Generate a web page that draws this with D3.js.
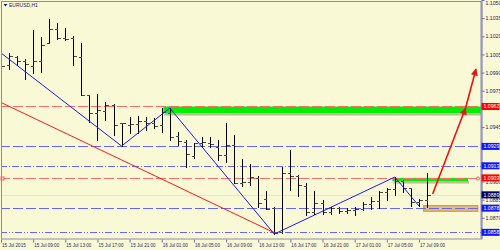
<!DOCTYPE html>
<html>
<head>
<meta charset="utf-8">
<script src="https://cdn.jsdelivr.net/npm/d3@7"></script>
<style>
    html, body { margin: 0; padding: 0; background: #f9f9d6; }
    svg { display: block; font-family: "Liberation Sans", Arial, sans-serif; }
</style>
</head>
<body>
<svg id="chart" width="500" height="250"></svg>
<script>
    // EURUSD H1, one entry per hourly bar (15 Jul 05:00 .. 17 Jul 10:00)
    var opens = [1.09988, 1.09963, 1.10029, 1.09996, 1.09955, 1.09996, 1.10145, 1.10260, 1.10186, 1.10186,
        1.10029, 1.09715, 1.09566, 1.09583, 1.09632, 1.09484, 1.09467, 1.09475, 1.09500, 1.09484,
        1.09467, 1.09566, 1.09376, 1.09326, 1.09211, 1.09318, 1.09318, 1.09285, 1.09219, 1.09302,
        1.08988, 1.08996, 1.09029, 1.08855, 1.08781, 1.08583, 1.09070, 1.09045, 1.08963, 1.08748,
        1.08822, 1.08748, 1.08781, 1.08756, 1.08764, 1.08773, 1.08814, 1.08839, 1.08913, 1.08938,
        1.09004, 1.08946, 1.08831, 1.08847];
    var highs = [1.10070, 1.10062, 1.10037, 1.10012, 1.10252, 1.10194, 1.10343, 1.10310, 1.10269, 1.10202,
        1.10145, 1.09715, 1.09723, 1.09657, 1.09640, 1.09484, 1.09533, 1.09541, 1.09533, 1.09525,
        1.09607, 1.09607, 1.09409, 1.09343, 1.09318, 1.09368, 1.09368, 1.09343, 1.09484, 1.09384,
        1.09186, 1.09145, 1.09045, 1.08921, 1.08789, 1.09120, 1.09260, 1.09054, 1.08988, 1.08921,
        1.08847, 1.08789, 1.08789, 1.08781, 1.08789, 1.08831, 1.08872, 1.08921, 1.08946, 1.09037,
        1.09012, 1.08946, 1.08855, 1.09070];
    var lows = [1.09921, 1.09930, 1.09963, 1.09847, 1.09897, 1.09905, 1.10145, 1.10178, 1.10169, 1.09963,
        1.09715, 1.09492, 1.09343, 1.09508, 1.09384, 1.09293, 1.09401, 1.09401, 1.09426, 1.09442,
        1.09409, 1.09343, 1.09302, 1.09120, 1.09194, 1.09285, 1.09285, 1.09178, 1.09161, 1.08988,
        1.08963, 1.08971, 1.08789, 1.08773, 1.08566, 1.08574, 1.08930, 1.08880, 1.08723, 1.08731,
        1.08731, 1.08731, 1.08740, 1.08740, 1.08723, 1.08764, 1.08773, 1.08781, 1.08847, 1.08888,
        1.08913, 1.08798, 1.08798, 1.08789];
    var closes = [1.09955, 1.10037, 1.09996, 1.09971, 1.09996, 1.10128, 1.10260, 1.10186, 1.10178, 1.10037,
        1.09715, 1.09566, 1.09591, 1.09632, 1.09467, 1.09484, 1.09475, 1.09500, 1.09484, 1.09459,
        1.09574, 1.09368, 1.09335, 1.09227, 1.09318, 1.09326, 1.09310, 1.09219, 1.09302, 1.08988,
        1.08996, 1.09037, 1.08822, 1.08773, 1.08574, 1.09070, 1.09045, 1.08971, 1.08748, 1.08822,
        1.08748, 1.08781, 1.08756, 1.08764, 1.08773, 1.08814, 1.08839, 1.08913, 1.08938, 1.09004,
        1.08946, 1.08831, 1.08847, 1.08888];

    var timeTickIdx = [0, 4, 8, 12, 16, 20, 24, 28, 32, 36, 40, 44, 48, 52];
    var timeLabels = ["15 Jul 2015", "15 Jul 09:00", "15 Jul 13:00", "15 Jul 17:00", "15 Jul 21:00",
        "16 Jul 01:00", "16 Jul 05:00", "16 Jul 09:00", "16 Jul 13:00", "16 Jul 17:00",
        "16 Jul 21:00", "17 Jul 01:00", "17 Jul 05:00", "17 Jul 09:00"];
    // grid prices that are not hidden behind a level label
    var priceTicks = [1.1050, 1.1035, 1.1020, 1.1005, 1.0990, 1.0975, 1.0945,
        1.0900, 1.0885, 1.0870];

    // horizontal levels
    var levelPrices = [1.0962, 1.0929, 1.0913, 1.0903, 1.0878, 1.0858];
    var bidPrice = 1.0889;

    // zigzag + trend line (bar index, price)
    var zigzagIdx = [-0.15, 15, 21, 34, 49, 52];
    var zigzagPrice = [1.10070, 1.09293, 1.09607, 1.08566, 1.09037, 1.08798];
    var trendIdx = [-0.12, 34.1];
    var trendPrice = [1.09657, 1.08574];

    // arrows
    var arrowFromIdx = [53.7, 57.8];
    var arrowFromPrice = [1.08897, 1.09607];
    var arrowToIdx = [57.8, 59.1];
    var arrowToPrice = [1.09607, 1.09930];

    // zones: green, green, orange
    var zoneStartIdx = [20.2, 48.7, 52.6];
    var zoneEndIdx = [61, 58.1, 59.3];
    var zoneTop = [1.09620, 1.09030, 1.08800];
    var zoneBottom = [1.09566, 1.09004, 1.08755];

    var svg = d3.select("#chart");
    var W = 500, H = 250;
    var plotRight = 481, plotBottom = 239;

    svg.append("rect").attr("width", W).attr("height", H).attr("fill", "#f9f9d6");

    var x = d3.scaleLinear().domain([0, 53]).range([1, 427]);
    var y = d3.scaleLinear().domain([1.08525, 1.10500]).range([plotBottom, 0]);

    svg.append("clipPath").attr("id", "plotClip")
        .append("rect").attr("x", 1.5).attr("y", 1.5)
        .attr("width", plotRight - 1.5).attr("height", plotBottom - 1.5);

    var plot = svg.append("g").attr("clip-path", "url(#plotClip)");

    // Zones
    var zoneFill = ["#00f000", "#00f000", "#cdc59f"];
    var zoneStroke = ["none", "none", "#f39a26"];
    zoneStartIdx.forEach(function(s, i) {
        var x0 = x(s), x1 = x(zoneEndIdx[i]);
        var y0 = y(zoneTop[i]), y1 = y(zoneBottom[i]);
        if (i < 2) {
            plot.append("rect")
                .attr("x", x0 + 1).attr("y", y1)
                .attr("width", x1 - x0).attr("height", 2.5)
                .attr("fill", "#8c8a6c").attr("opacity", 0.55);
        }
        plot.append("rect")
            .attr("x", x0).attr("y", y0)
            .attr("width", x1 - x0).attr("height", y1 - y0)
            .attr("fill", zoneFill[i])
            .attr("stroke", zoneStroke[i])
            .attr("stroke-width", 1.5);
    });

    // Levels
    var levelColor = ["#ff6a6a", "#6464ff", "#6464ff", "#ff6a6a", "#6464ff", "#6464ff"];
    var levelDash = ["10,3", "10,3", "7,2,1,2", "10,3", "10,3", "7,2,1,2,1,2"];
    plot.append("line")
        .attr("x1", 0).attr("x2", plotRight)
        .attr("y1", Math.round(y(bidPrice)) + 0.5).attr("y2", Math.round(y(bidPrice)) + 0.5)
        .attr("stroke", "#e4e4dc").attr("stroke-width", 1);
    levelPrices.forEach(function(p, i) {
        var ly = Math.round(y(p)) + 0.5;
        plot.append("line")
            .attr("x1", 0).attr("x2", plotRight)
            .attr("y1", ly).attr("y2", ly)
            .attr("stroke", levelColor[i])
            .attr("stroke-width", 1)
            .attr("stroke-dasharray", levelDash[i]);
    });

    // Bars
    var gBars = plot.append("g").attr("shape-rendering", "crispEdges");
    opens.forEach(function(o, i) {
        var cx = Math.round(x(i)) + 0.5;
        gBars.append("line")
            .attr("x1", cx).attr("x2", cx)
            .attr("y1", Math.round(y(highs[i]))).attr("y2", Math.round(y(lows[i])) + 1)
            .attr("stroke", "#000");
        gBars.append("line")
            .attr("x1", cx - 3).attr("x2", cx)
            .attr("y1", Math.round(y(o)) + 0.5).attr("y2", Math.round(y(o)) + 0.5)
            .attr("stroke", "#4a4a3c");
        gBars.append("line")
            .attr("x1", cx).attr("x2", cx + 3)
            .attr("y1", Math.round(y(closes[i])) + 0.5).attr("y2", Math.round(y(closes[i])) + 0.5)
            .attr("stroke", "#4a4a3c");
    });

    // Trend line and zigzag
    var line = d3.line().x(function(d) { return x(d[0]); }).y(function(d) { return y(d[1]); });
    plot.append("path")
        .attr("d", line(d3.zip(trendIdx, trendPrice)))
        .attr("fill", "none").attr("stroke", "#ff1a1a").attr("stroke-width", 1);
    plot.append("path")
        .attr("d", line(d3.zip(zigzagIdx, zigzagPrice)))
        .attr("fill", "none").attr("stroke", "#1a1aff").attr("stroke-width", 1);

    // Arrows
    svg.append("defs").append("marker")
        .attr("id", "arrowHead")
        .attr("viewBox", "0 0 10 10")
        .attr("refX", 9).attr("refY", 5)
        .attr("markerWidth", 5).attr("markerHeight", 4.5)
        .attr("markerUnits", "strokeWidth")
        .attr("orient", "auto")
        .append("path").attr("d", "M0,0 L10,5 L0,10 Z").attr("fill", "#ee1111");
    arrowFromIdx.forEach(function(a, i) {
        plot.append("line")
            .attr("x1", x(a)).attr("y1", y(arrowFromPrice[i]))
            .attr("x2", x(arrowToIdx[i])).attr("y2", y(arrowToPrice[i]))
            .attr("stroke", "#ee1111").attr("stroke-width", 1.6)
            .attr("marker-end", "url(#arrowHead)");
    });

    // Selected-line markers on 1.0903
    var selY = Math.round(y(levelPrices[3])) + 0.5;
    svg.append("rect").attr("x", 1).attr("y", selY - 1.5).attr("width", 3).attr("height", 3)
        .attr("fill", "#fff").attr("stroke", "#ff3030").attr("stroke-width", 0.8);
    svg.append("circle").attr("cx", 478).attr("cy", selY).attr("r", 1.5)
        .attr("fill", "#f9f9d6").attr("stroke", "#ff3030").attr("stroke-width", 0.8);

    // Frame
    svg.append("rect")
        .attr("x", 1.5).attr("y", 1.5)
        .attr("width", plotRight - 1.5).attr("height", plotBottom - 1.5)
        .attr("fill", "none").attr("stroke", "#8a8ab4").attr("stroke-width", 1);

    // Price axis
    var yAxis = d3.axisRight(y)
        .tickValues(priceTicks)
        .tickSize(3).tickSizeOuter(0).tickPadding(1)
        .tickFormat(d3.format(".4f"));
    var gY = svg.append("g").attr("transform", "translate(" + (plotRight + 0.5) + ",0)").call(yAxis);
    gY.select(".domain").attr("stroke", "#6e6eb4");
    gY.selectAll(".tick line").attr("stroke", "#6e6eb4");
    gY.selectAll(".tick text")
        .attr("fill", "#1c1c66")
        .attr("font-size", "5.2px")
        .attr("font-family", "Liberation Sans, Arial, sans-serif")
        .attr("dy", function(d) { return y(d) < 3 ? "0.9em" : "0.32em"; });

    // Price labels
    var labelFill = ["#ff0000", "#1414ff", "#1414ff", "#ff0000", "#1414ff", "#1414ff"];
    var labels = levelPrices.map(function(p, i) { return { p: p, c: labelFill[i] }; });
    labels.push({ p: bidPrice, c: "#000060" });
    labels.forEach(function(l) {
        var ly = y(l.p);
        svg.append("rect")
            .attr("x", plotRight + 0.5).attr("y", ly - 3.5)
            .attr("width", 18).attr("height", 7)
            .attr("fill", l.c);
        svg.append("text")
            .attr("x", plotRight + 2.5).attr("y", ly)
            .attr("dy", "0.35em")
            .attr("fill", "#fff")
            .attr("font-size", "5.2px")
            .text(d3.format(".4f")(l.p));
    });

    // Time axis
    var xAxis = d3.axisBottom(x)
        .tickValues(timeTickIdx)
        .tickSize(3).tickSizeOuter(0).tickPadding(1.5)
        .tickFormat(function(d, i) { return timeLabels[i]; });
    var gX = svg.append("g").attr("transform", "translate(0," + (plotBottom + 0.5) + ")").call(xAxis);
    gX.select(".domain").remove();
    gX.selectAll(".tick line").attr("stroke", "#6e6eb4");
    gX.selectAll(".tick text")
        .attr("fill", "#2a2a5c")
        .attr("font-size", "4.6px")
        .attr("font-family", "Liberation Sans, Arial, sans-serif")
        .attr("text-anchor", "start")
        .attr("x", 0.5);

    // Title
    svg.append("path").attr("d", "M3.5,4 L7.5,4 L5.5,6.5 Z").attr("fill", "#1c1c66");
    svg.append("text")
        .attr("x", 9).attr("y", 5.2).attr("dy", "0.35em")
        .attr("fill", "#1c1c66").attr("font-size", "5px")
        .text("EURUSD,H1");
</script>
</body>
</html>
